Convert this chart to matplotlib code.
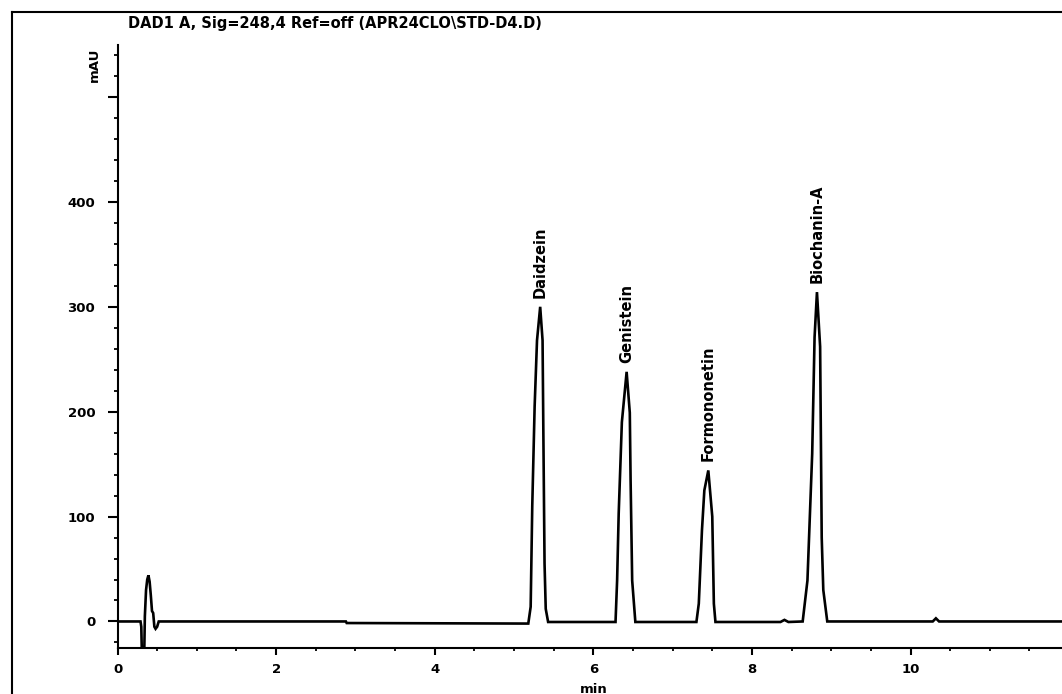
import matplotlib
matplotlib.use('Agg')
import matplotlib.pyplot as plt
from matplotlib.lines import Line2D
from matplotlib.ticker import MultipleLocator, FixedLocator

# Trace: retention time (min) and signal (mAU)
time_min = [0.00, 0.29, 0.30, 0.31, 0.335, 0.345, 0.36, 0.375, 0.39, 0.405,
            0.42, 0.435, 0.45, 0.465, 0.48, 0.50, 0.52, 2.88, 2.89, 5.15,
            5.18, 5.21, 5.23, 5.26, 5.29, 5.33, 5.36, 5.37, 5.385, 5.40,
            5.43, 6.28, 6.30, 6.32, 6.36, 6.42, 6.46, 6.47, 6.49, 6.53,
            7.30, 7.33, 7.37, 7.40, 7.45, 7.50, 7.52, 7.54, 8.36, 8.41,
            8.46, 8.64, 8.70, 8.76, 8.79, 8.82, 8.86, 8.88, 8.90, 8.95,
            10.28, 10.32, 10.36, 11.95]
signal_mau = [0, 0, -5, -40, -40, 5, 30, 40, 44, 38,
              25, 10, 8, -5, -7, -5, 0, 0, -1.5, -2,
              -2, 14, 110, 205, 268, 300, 268, 180, 55, 12,
              -0.5, -0.5, 39, 103, 190, 238, 199, 135, 39, -0.5,
              -0.5, 17, 87, 125, 144, 100, 17, -0.5, -0.5, 1.5,
              -0.5, 0, 39, 160, 271, 314, 262, 80, 30, 0,
              0, 3, 0, 0]

peak_names = ['Daidzein', 'Genistein', 'Formononetin', 'Biochanin-A']
peak_times = [5.33, 6.42, 7.45, 8.82]
peak_heights = [300, 238, 144, 314]

x_ticks = [0, 2, 4, 6, 8, 10]
y_ticks = [0, 100, 200, 300, 400, 500]
y_tick_labels = ['0', '100', '200', '300', '400', '']

title_text = 'DAD1 A, Sig=248,4 Ref=off (APR24CLO\\STD-D4.D)'

W, H = 1062, 694
fig = plt.figure(figsize=(W / 100, H / 100), dpi=100)
ax = fig.add_axes([117.5 / W, (H - 648) / H, 1 - 117.5 / W, (648 - 45) / H])

FONT = dict(family='DejaVu Sans', weight='bold', size=9.5)

ax.plot(time_min, signal_mau, color='black', lw=1.9, solid_joinstyle='miter')
ax.set_xlim(0, 11.91)
ax.set_ylim(-25.3, 549.6)

for s in ['top', 'right']:
    ax.spines[s].set_visible(False)
for s in ['left', 'bottom']:
    ax.spines[s].set_linewidth(1.5)

ax.xaxis.set_major_locator(FixedLocator(x_ticks))
ax.xaxis.set_minor_locator(MultipleLocator(0.5))
ax.yaxis.set_major_locator(FixedLocator(y_ticks))
ax.yaxis.set_minor_locator(MultipleLocator(20))
ax.set_xticklabels([str(v) for v in x_ticks], fontdict=FONT)
ax.set_yticklabels(y_tick_labels, fontdict=FONT)

ax.tick_params(axis='x', which='major', direction='out', length=5, width=1.5, pad=6)
ax.tick_params(axis='x', which='minor', direction='out', length=2.5, width=1.3)
ax.tick_params(axis='y', which='major', direction='out', length=7, width=1.5, pad=9)
ax.tick_params(axis='y', which='minor', direction='out', length=3, width=1.3)

# axis labels
ax.text(6, -0.068, 'min', transform=ax.get_xaxis_transform(), ha='center',
        va='center', fontdict=FONT)
ax.text(-0.29, 531, 'mAU', rotation=90, ha='center', va='center',
        fontdict=FONT, clip_on=False)

# peak labels
for name, t, h in zip(peak_names, peak_times, peak_heights):
    ax.annotate(name, xy=(t, h), xytext=(0, 9), textcoords='offset pixels',
                rotation=90, ha='center', va='bottom',
                family='DejaVu Sans', weight='bold', size=10.5)

# title
fig.text(128 / W, 1 - 28 / H, title_text, ha='left', va='baseline',
         family='DejaVu Sans', weight='bold', size=10.5)

# frame lines (left and top)
fig.add_artist(Line2D([12 / W, 12 / W], [0, 1 - 12 / H], color='black', lw=1.5,
                      transform=fig.transFigure))
fig.add_artist(Line2D([12 / W, 1], [1 - 12 / H, 1 - 12 / H], color='black', lw=1.5,
                      transform=fig.transFigure))

fig.savefig('out.png', dpi=100)
